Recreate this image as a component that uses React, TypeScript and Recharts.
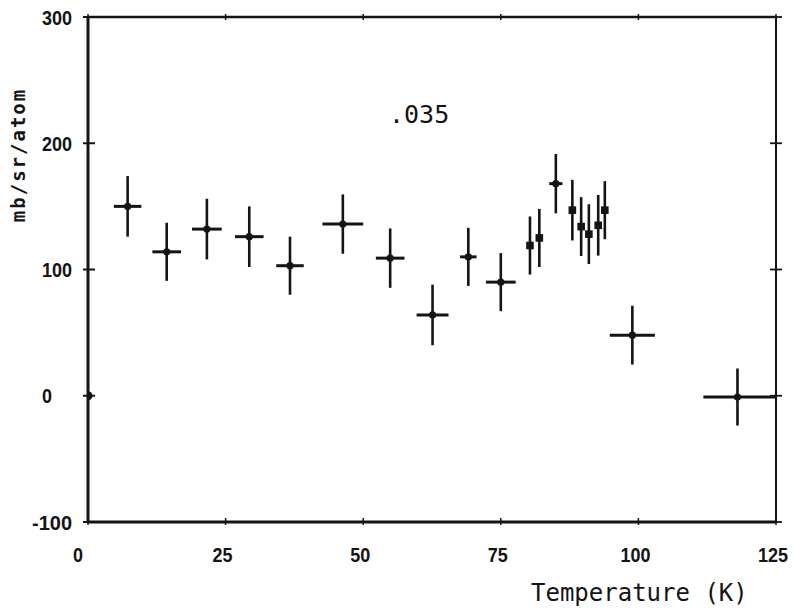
import React from "react";
import { ScatterChart, Scatter, XAxis, YAxis, ErrorBar } from "recharts";

const INK = "#141414";

const tempTicks = [0, 25, 50, 75, 100, 125];
const sigmaTicks = [-100, 0, 100, 200, 300];

// temperature bins: value with error in both directions
const binT = [7.2, 14.3, 21.6, 29.3, 36.7, 46.3, 54.9, 62.6, 69.1, 75.0, 85.0, 98.9, 118.0];
const binSigma = [150, 114, 132, 126, 103, 136, 109, 64, 110, 90, 168, 48, -1];
const binSigmaErr = [24, 23, 24, 24, 23, 23.5, 23.5, 24, 23, 23, 23.5, 23.3, 22.6];
const binTErr: (number | [number, number])[] = [
  2.5, 2.6, 2.7, 2.6, 2.5, 3.7, 2.6, 2.9, 1.5, 2.7, 1.2, 4.1, [6.2, 7.0],
];

// single runs near the transition (squares, no T spread)
const runT = [80.3, 82.0, 88.0, 89.6, 91.0, 92.7, 93.9];
const runSigma = [119, 125, 147, 134, 128, 135, 147];
const runSigmaErr = [23, 23, 24, 23.3, 23.7, 24, 23];

// reference point on the axis
const zeroT = [0];
const zeroSigma = [0];

const binData = binT.map((t, i) => ({
  t,
  s: binSigma[i],
  tErr: binTErr[i],
  sErr: binSigmaErr[i],
}));
const runData = runT.map((t, i) => ({ t, s: runSigma[i], sErr: runSigmaErr[i] }));
const zeroData = zeroT.map((t, i) => ({ t, s: zeroSigma[i] }));

const tickFont = "'Liberation Sans', Arial, sans-serif";
const monoFont = "'DejaVu Sans Mono', monospace";

// squeeze the bold digits so they look like the narrow plotter font
const TickText = ({ x, y, anchor, value }: any) => {
  const s = String(value);
  return (
    <text
      x={x}
      y={y}
      textAnchor={anchor}
      fontFamily={tickFont}
      fontWeight="bold"
      fontSize={21}
      fill={INK}
      textLength={s.length * 10}
      lengthAdjust="spacingAndGlyphs"
    >
      {s}
    </text>
  );
};

const BottomTick = (p: any) => {
  const v = p.payload.value;
  return (
    <g>
      <line x1={p.x} x2={p.x} y1={p.y - 4} y2={p.y + 3} stroke={INK} strokeWidth={1.5} />
      <TickText x={v === 0 ? p.x - 10 : p.x - 3} y={p.y + 40} anchor="middle" value={v} />
    </g>
  );
};

const TopTick = (p: any) => (
  <line x1={p.x} x2={p.x} y1={p.y - 3} y2={p.y + 3} stroke={INK} strokeWidth={1.5} />
);

const LeftTick = (p: any) => {
  const v = p.payload.value;
  return (
    <g>
      <line x1={p.x - 5} x2={p.x + 7} y1={p.y} y2={p.y} stroke={INK} strokeWidth={2} />
      <TickText
        x={v < 0 ? p.x - 16 : p.x - 46}
        y={p.y + 7.5}
        anchor={v < 0 ? "end" : "start"}
        value={v}
      />
    </g>
  );
};

const RightTick = (p: any) => (
  <line x1={p.x - 6} x2={p.x + 6} y1={p.y} y2={p.y} stroke={INK} strokeWidth={1.8} />
);

const Dot = (p: any) => <circle cx={p.cx} cy={p.cy} r={3.6} fill={INK} />;
const BigDot = (p: any) => <circle cx={p.cx} cy={p.cy} r={4.5} fill={INK} />;
const Square = (p: any) => (
  <rect x={p.cx - 3.8} y={p.cy - 3.8} width={7.6} height={7.6} fill={INK} />
);

export default function App() {
  return (
    <div style={{ position: "absolute", left: 0, top: 0, width: 794, height: 611, background: "#fff" }}>
      <ScatterChart
        width={794}
        height={611}
        margin={{ top: 16, right: 17, bottom: 0, left: 0 }}
      >
        <XAxis
          xAxisId="bottom"
          type="number"
          dataKey="t"
          domain={[0, 125]}
          ticks={tempTicks}
          allowDataOverflow
          height={89}
          tickSize={0}
          tickMargin={0}
          tickLine={false}
          axisLine={{ stroke: INK, strokeWidth: 3 }}
          tick={BottomTick}
        />
        <XAxis
          xAxisId="top"
          orientation="top"
          type="number"
          dataKey="t"
          domain={[0, 125]}
          ticks={tempTicks}
          allowDataOverflow
          height={1}
          tickSize={0}
          tickMargin={0}
          tickLine={false}
          axisLine={{ stroke: INK, strokeWidth: 2.5 }}
          tick={TopTick}
        />
        <YAxis
          yAxisId="left"
          type="number"
          dataKey="s"
          domain={[-100, 300]}
          ticks={sigmaTicks}
          allowDataOverflow
          width={88}
          tickSize={0}
          tickMargin={0}
          tickLine={false}
          axisLine={{ stroke: INK, strokeWidth: 3 }}
          tick={LeftTick}
        />
        <YAxis
          yAxisId="right"
          orientation="right"
          type="number"
          dataKey="s"
          domain={[-100, 300]}
          ticks={sigmaTicks}
          allowDataOverflow
          width={1}
          tickSize={0}
          tickMargin={0}
          tickLine={false}
          axisLine={{ stroke: INK, strokeWidth: 2 }}
          tick={RightTick}
        />
        <Scatter
          data={binData}
          xAxisId="bottom"
          yAxisId="left"
          shape={Dot}
          isAnimationActive={false}
        >
          <ErrorBar dataKey="tErr" direction="x" width={0} stroke={INK} strokeWidth={3} isAnimationActive={false} />
          <ErrorBar dataKey="sErr" direction="y" width={0} stroke={INK} strokeWidth={2.6} isAnimationActive={false} />
        </Scatter>
        <Scatter
          data={runData}
          xAxisId="bottom"
          yAxisId="left"
          shape={Square}
          isAnimationActive={false}
        >
          <ErrorBar dataKey="sErr" direction="y" width={0} stroke={INK} strokeWidth={2.6} isAnimationActive={false} />
        </Scatter>
        <Scatter
          data={zeroData}
          xAxisId="bottom"
          yAxisId="left"
          shape={BigDot}
          isAnimationActive={false}
        />
      </ScatterChart>
      <svg
        width={794}
        height={611}
        style={{ position: "absolute", left: 0, top: 0, pointerEvents: "none" }}
      >
        <text x={389} y={123} fontFamily={monoFont} fontSize={25} fill={INK}>
          .035
        </text>
        <text x={531} y={601} fontFamily={monoFont} fontSize={24} fill={INK}>
          Temperature (K)
        </text>
        <text
          transform="translate(25,155) rotate(-90)"
          textAnchor="middle"
          fontFamily={monoFont}
          fontWeight="bold"
          fontSize={19}
          letterSpacing={2}
          fill={INK}
        >
          mb/sr/atom
        </text>
      </svg>
    </div>
  );
}
